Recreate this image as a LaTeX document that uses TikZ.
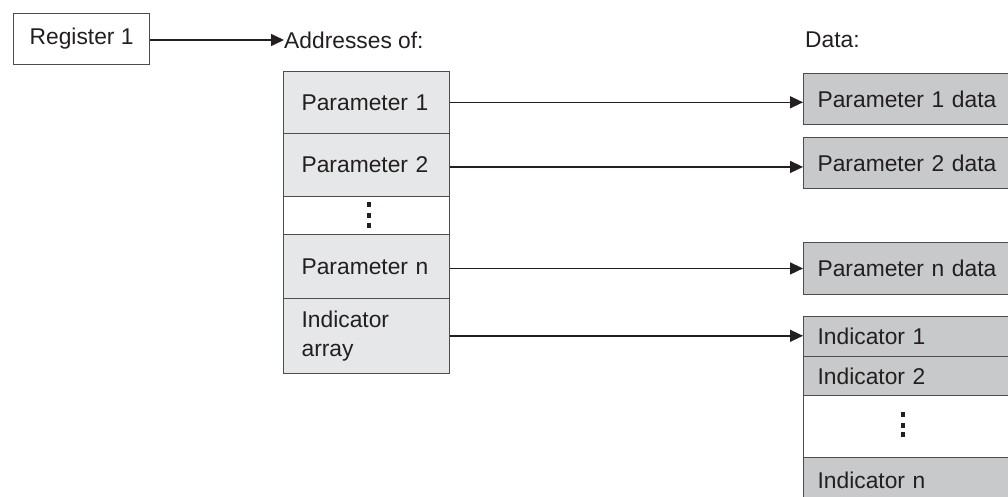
\documentclass[tikz,border=0pt]{standalone}
\usepackage{fontspec}
\setmainfont{Liberation Sans}
\usetikzlibrary{arrows.meta}
\definecolor{lightcell}{HTML}{E6E7E8}
\definecolor{darkcell}{HTML}{C8C9CA}
\definecolor{edgegray}{HTML}{4D4D4F}
\definecolor{ink}{HTML}{231F20}
\begin{document}
\begin{tikzpicture}[x=1pt,y=-1pt,
  every node/.style={font=\fontsize{22.8}{29}\selectfont, text=ink},
  lcell/.style={draw=edgegray, line width=1.2pt, fill=lightcell, anchor=north west,
    minimum width=166pt, text width=130pt, inner xsep=18pt, align=left, inner ysep=0pt},
  rcell/.style={draw=edgegray, line width=1.2pt, fill=darkcell, anchor=north west,
    minimum width=240pt, text width=212pt, inner xsep=14pt, align=left, inner ysep=0pt},
  blank/.style={draw=edgegray, line width=1.2pt, fill=white, anchor=north west, inner sep=0pt},
  conn/.style={draw=ink, line width=1.5pt, -{Triangle[length=13pt,width=12pt]}},
  dot/.style={fill=ink, draw=none}
]
\useasboundingbox (0,0) rectangle (1008,496);
\clip (0,0) rectangle (1008,496);

% Register
\node[draw=edgegray, line width=1.2pt, fill=white, minimum width=136pt, minimum height=50.5pt, inner sep=0pt, anchor=north west] (reg) at (13,13) {Register 1};
\node[anchor=west, inner sep=0pt] (addr) at (284,40) {Addresses of:};
\node[anchor=west, inner sep=0pt] (datalbl) at (805,40) {Data:};

% Left column
\node[lcell, minimum height=62pt] (p1) at (283,70.7) {Parameter 1};
\node[lcell, minimum height=63.3pt] (p2) at (283,132.7) {Parameter 2};
\node[blank, minimum width=166pt, minimum height=38pt] (ld) at (283,196) {};
\node[lcell, minimum height=63.7pt] (pn) at (283,234) {Parameter n};
\node[lcell, minimum height=75pt] (ia) at (283,297.7) {Indicator\\array};
\fill[dot] (367,202) rectangle (371,207);
\fill[dot] (367,213) rectangle (371,218);
\fill[dot] (367,223) rectangle (371,228);

% Right column
\node[rcell, minimum height=51.3pt] (d1) at (803,72.7) {Parameter 1 data};
\node[rcell, minimum height=51pt] (d2) at (803,137) {Parameter 2 data};
\node[rcell, minimum height=52pt] (dn) at (803,242) {Parameter n data};
\node[rcell, minimum height=39.7pt] (i1) at (803,316) {Indicator 1};
\node[rcell, minimum height=39.3pt] (i2) at (803,355.7) {Indicator 2};
\node[blank, minimum width=240pt, minimum height=62pt] (id) at (803,395) {};
\node[rcell, minimum height=46pt] (inn) at (803,457) {Indicator n};
\fill[dot] (901,412) rectangle (905,417);
\fill[dot] (901,422.5) rectangle (905,427.5);
\fill[dot] (901,432) rectangle (905,437);

% Connectors
\draw[conn] (reg.east |- addr.west) -- (addr.west);
\draw[conn] (p1.east) -- (p1.east -| d1.west);
\draw[conn] ([yshift=-2pt]p2.east) -- ([yshift=-2pt]p2.east -| d2.west);
\draw[conn] ([yshift=-2pt]pn.east) -- ([yshift=-2pt]pn.east -| dn.west);
\draw[conn] (ia.east) -- (ia.east -| i1.west);
\end{tikzpicture}
\end{document}
